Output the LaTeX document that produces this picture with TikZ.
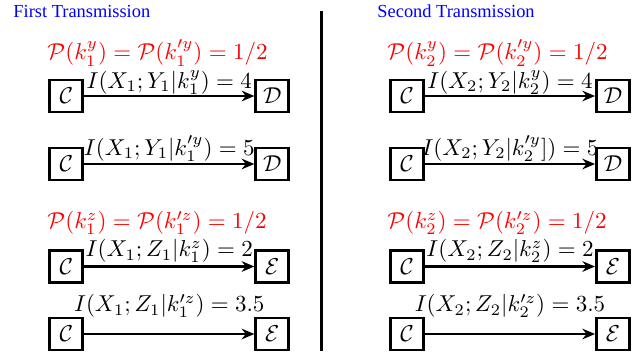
\documentclass[tikz,border=0pt]{standalone}
\usepackage{fontspec}
\newfontfamily\txtitlefont{Liberation Serif}
\usetikzlibrary{arrows.meta,positioning}
\tikzset{
  txbox/.style={
    draw=black,
    line width=1.2pt,
    minimum width=14.4pt,
    minimum height=13.9pt,
    inner sep=0pt
  },
  txflow/.style={-{Stealth[length=5.5pt,width=4.6pt]},draw=black,line width=1.2pt},
  txlabel/.style={midway,anchor=base,inner sep=0pt,yshift=3.8pt},
  txprob/.style={anchor=west,inner sep=0pt,text=red},
  txtitle/.style={anchor=base west,inner sep=0pt,text=blue,font=\txtitlefont\fontsize{8}{10}\selectfont},
  txdivider/.style={draw=black,line width=1.2pt}
}

\begin{document}
\begin{tikzpicture}[x=0.435pt,y=-0.435pt,node distance=74pt]
  \useasboundingbox (0,0) rectangle (644,358);
  \node[txtitle] (title1) at (13,17.3) {First Transmission};
  \node[txtitle] (title2) at (377,17.3) {Second Transmission};
  \coordinate (divtop) at (321.7,11);
  \coordinate (divbot) at (321.7,351);
  \draw[txdivider] (divtop) -- (divbot);

  \node[txprob] (proby1) at (47,53) {$\mathcal{P}(k_1^y) = \mathcal{P}(k_1^{\prime y}) = 1/2$};
  \node[txbox] (src1a) at (66.3,96) {$\mathcal{C}$};
  \node[txbox,right=of src1a] (dst1a) {$\mathcal{D}$};
  \node[txbox] (src1b) at (66.3,164) {$\mathcal{C}$};
  \node[txbox,right=of src1b] (dst1b) {$\mathcal{D}$};
  \node[txprob] (probz1) at (47,223) {$\mathcal{P}(k_1^z) = \mathcal{P}(k_1^{\prime z}) = 1/2$};
  \node[txbox] (src1c) at (66.3,266.5) {$\mathcal{C}$};
  \node[txbox,right=of src1c] (eve1c) {$\mathcal{E}$};
  \node[txbox] (src1d) at (66.3,334) {$\mathcal{C}$};
  \node[txbox,right=of src1d] (eve1d) {$\mathcal{E}$};

  \node[txprob] (proby2) at (387,53) {$\mathcal{P}(k_2^y) = \mathcal{P}(k_2^{\prime y}) = 1/2$};
  \node[txbox] (src2a) at (407,96) {$\mathcal{C}$};
  \node[txbox,right=of src2a] (dst2a) {$\mathcal{D}$};
  \node[txbox] (src2b) at (407,164) {$\mathcal{C}$};
  \node[txbox,right=of src2b] (dst2b) {$\mathcal{D}$};
  \node[txprob] (probz2) at (387,223) {$\mathcal{P}(k_2^z) = \mathcal{P}(k_2^{\prime z}) = 1/2$};
  \node[txbox] (src2c) at (407,266.5) {$\mathcal{C}$};
  \node[txbox,right=of src2c] (eve2c) {$\mathcal{E}$};
  \node[txbox] (src2d) at (407,334) {$\mathcal{C}$};
  \node[txbox,right=of src2d] (eve2d) {$\mathcal{E}$};

  \draw[txflow] (src1a) -- node[txlabel,yshift=-0.5pt] {$I(X_1;Y_1|k_1^y) = 4$} (dst1a);
  \draw[txflow] (src1b) -- node[txlabel] {$I(X_1;Y_1|k_1^{\prime y}) = 5$} (dst1b);
  \draw[txflow] (src1c) -- node[txlabel,yshift=0.5pt] {$I(X_1;Z_1|k_1^z) = 2$} (eve1c);
  \draw[txflow] (src1d) -- node[txlabel,yshift=5.8pt] {$I(X_1;Z_1|k_1^{\prime z}) = 3.5$} (eve1d);
  \draw[txflow] (src2a) -- node[txlabel,yshift=-0.5pt] {$I(X_2;Y_2|k_2^y) = 4$} (dst2a);
  \draw[txflow] (src2b) -- node[txlabel] {$I(X_2;Y_2|k_2^{\prime y}]) = 5$} (dst2b);
  \draw[txflow] (src2c) -- node[txlabel,yshift=0.5pt] {$I(X_2;Z_2|k_2^z) = 2$} (eve2c);
  \draw[txflow] (src2d) -- node[txlabel,yshift=5.8pt] {$I(X_2;Z_2|k_2^{\prime z}) = 3.5$} (eve2d);
\end{tikzpicture}
\end{document}
